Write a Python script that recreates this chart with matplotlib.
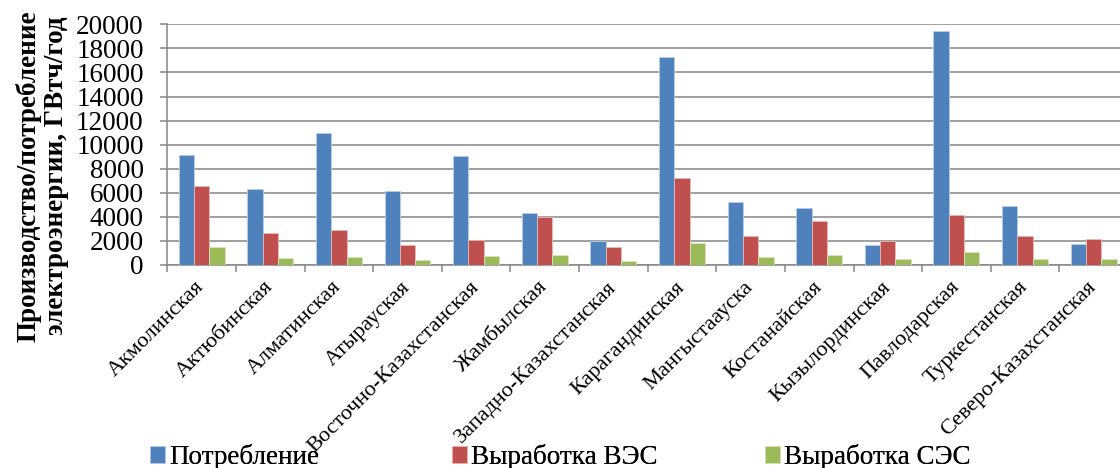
import numpy as np
import matplotlib
matplotlib.use('Agg')
import matplotlib.pyplot as plt

plt.rcParams['font.family'] = 'serif'
plt.rcParams['font.serif'] = ['Liberation Serif', 'DejaVu Serif']

regions = ['Акмолинская', 'Актюбинская', 'Алматинская', 'Атырауская',
           'Восточно-Казахстанская', 'Жамбылская', 'Западно-Казахстанская',
           'Карагандинская', 'Мангыстааyска', 'Костанайская',
           'Кызылординская', 'Павлодарская', 'Туркестанская',
           'Северо-Казахстанская']
regions[8] = 'Мангыстааyска'.replace('y', 'у')

consumption = [9100, 6300, 10970, 6180, 9060, 4320, 2020, 17290, 5240, 4770,
               1660, 19420, 4930, 1770]
wind = [6570, 2630, 2910, 1640, 2080, 3960, 1520, 7260, 2380, 3630,
        2000, 4130, 2440, 2160]
solar = [1470, 580, 690, 420, 720, 860, 330, 1860, 660, 830,
         530, 1050, 530, 530]

series_names = ['Потребление', 'Выработка ВЭС', 'Выработка СЭС']
colors = ['#4F81BD', '#C0504D', '#9BBB59']
edges = ['#B9CDE5', '#E6B9B8', '#D7E4BD']

fig = plt.figure(figsize=(11.2, 4.68), dpi=100)
ax = fig.add_axes([167.3 / 1120, 1 - 265 / 468, (1128 - 167.3) / 1120, (265 - 24.3) / 468])

ind = np.arange(len(regions))
width = 0.223
bars = []
for k, vals in enumerate([consumption, wind, solar]):
    b = ax.bar(ind + (k - 1) * width, vals, width, color=colors[k],
               edgecolor=edges[k], linewidth=0.6, label=series_names[k], zorder=3)
    bars.append(b)

grid_color = '#868686'
ax.set_xlim(-0.5, len(regions) - 0.5)
ax.set_ylim(0, 20000)
ax.set_yticks(np.arange(0, 20001, 2000))
ax.yaxis.grid(True, color=grid_color, linewidth=1.1, zorder=0)
ax.set_axisbelow(True)

ax.set_xticks(np.arange(-0.5, len(regions), 1.0))
ax.set_xticklabels([])
ax.set_xticks(ind, minor=True)
ax.set_xticklabels(regions, minor=True, rotation=45, ha='right', va='center',
                   rotation_mode='anchor', fontsize=16)
ax.tick_params(axis='x', which='minor', length=0, pad=14)
ax.tick_params(axis='x', which='major', length=5, width=1.1, color=grid_color)
ax.tick_params(axis='y', length=5, width=1.1, color=grid_color, labelsize=19.5, pad=12)

for s in ['top', 'right']:
    ax.spines[s].set_visible(False)
for s in ['left', 'bottom']:
    ax.spines[s].set_color(grid_color)
    ax.spines[s].set_linewidth(1.1)

fig.text(42 / 1120, 1 - 176 / 468,
         'Производство/потребление\nэлектроэнергии, ГВтч/год',
         rotation=90, ha='center', va='center', multialignment='center',
         fontsize=19.5, fontweight='bold', linespacing=1.15)

# one legend entry per slot, placed like the original
legend_x = [150, 452, 765]
for k in range(3):
    leg = fig.legend([bars[k]], [series_names[k]], loc='center left',
                     bbox_to_anchor=(legend_x[k] / 1120, 1 - 457 / 468),
                     frameon=False, fontsize=19.5, handlelength=0.55,
                     handleheight=0.55, handletextpad=0.15,
                     borderpad=0, borderaxespad=0)
    fig.add_artist(leg)

fig.savefig('out.png', dpi=100)
